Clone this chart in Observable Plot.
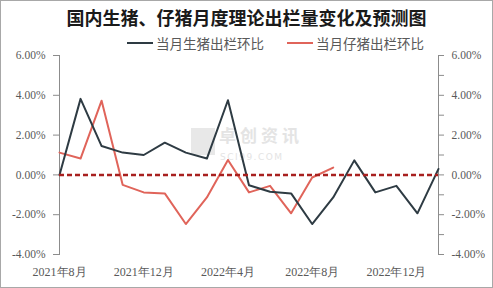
<!DOCTYPE html>
<html>
<head>
<meta charset="utf-8">
<script src="https://cdn.jsdelivr.net/npm/d3@7"></script>
<script src="https://cdn.jsdelivr.net/npm/@observablehq/plot@0.6"></script>
<style>
  html, body { margin: 0; padding: 0; background: #fff; }
  #wrap { position: relative; width: 493px; height: 288px; box-sizing: border-box; border: 1px solid #a8a8a8; overflow: hidden; background: #fff; }
  #title { position: absolute; top: 5px; left: 0; width: 100%; text-align: center; font: bold 18px "Noto Sans CJK SC", sans-serif; color: #1a1a1a; line-height: 22px; }
  #legend { position: absolute; top: 33px; left: 126px; display: flex; align-items: center; font: 13.5px "Noto Sans CJK SC", sans-serif; color: #595959; line-height: 18px; }
  .item { display: flex; align-items: center; }
  .swatch { width: 26px; height: 2px; margin-right: 3px; }
  #chart { position: absolute; top: 45px; left: 0; }
  #wm-logo { position: absolute; left: 190px; top: 127px; width: 24px; height: 27px; background: #e8e8e8; }
  #wm-t1 { position: absolute; left: 218px; top: 124px; font: bold 17px "Noto Sans CJK SC", sans-serif; color: #e4e4e4; line-height: 20px; letter-spacing: 4px; }
  #wm-t2 { position: absolute; left: 219px; top: 151px; font: 9px "DejaVu Sans", sans-serif; color: #e4e4e4; line-height: 10px; letter-spacing: 1.5px; }
  #chart svg text { font-family: "Liberation Serif", serif; }
</style>
</head>
<body>
<div id="wrap">
  <div id="title">国内生猪、仔猪月度理论出栏量变化及预测图</div>
  <div id="legend"></div>
  <div id="wm-logo"></div>
  <div id="wm-t1">卓创资讯</div>
  <div id="wm-t2">SCI99.COM</div>
  <div id="chart"></div>
</div>
<script>
const months = ["2021年8月","2021年9月","2021年10月","2021年11月","2021年12月","2022年1月","2022年2月","2022年3月","2022年4月","2022年5月","2022年6月","2022年7月","2022年8月","2022年9月","2022年10月","2022年11月","2022年12月","2023年1月","2023年2月"];
const hogMoM = [0.00, 3.82, 1.45, 1.12, 1.00, 1.62, 1.12, 0.82, 3.75, -0.52, -0.85, -0.93, -2.47, -1.13, 0.73, -0.88, -0.55, -1.93, 0.30];
const pigletMoM = [1.12, 0.82, 3.73, -0.50, -0.88, -0.93, -2.47, -1.13, 0.75, -0.88, -0.55, -1.93, -0.13, 0.37];
const seriesNames = ["当月生猪出栏环比", "当月仔猪出栏环比"];
const seriesColors = ["#2e3b43", "#e0645a"];
const xTickIdx = [0, 4, 8, 12, 16];
const yMajor = [-4, -2, 0, 2, 4, 6];
const yMinor = [-4, -3, -2, -1, 0, 1, 2, 3, 4, 5, 6];

const hog = hogMoM.map((v, i) => ({i, v}));
const piglet = pigletMoM.map((v, i) => ({i, v}));

const legend = document.getElementById("legend");
seriesNames.forEach((n, k) => {
  const it = document.createElement("div");
  it.className = "item";
  if (k > 0) it.style.marginLeft = "23px";
  it.innerHTML = `<div class="swatch" style="background:${seriesColors[k]}"></div><span>${n}</span>`;
  legend.appendChild(it);
});

const pct = d => d.toFixed(2) + "%";
const axisColor = "#8c8c8c";
const textColor = "#595959";
const serif = "'Liberation Serif', serif";

const chart = Plot.plot({
  width: 491,
  height: 242,
  marginLeft: 58,
  marginRight: 54,
  marginTop: 9,
  marginBottom: 34,
  style: { fontFamily: serif, fontSize: "11px", color: textColor, background: "transparent" },
  x: { type: "linear", domain: [0, months.length - 1] },
  y: { domain: [-4, 6] },
  marks: [
    Plot.frame({ anchor: "left", stroke: axisColor }),
    Plot.frame({ anchor: "right", stroke: axisColor }),
    Plot.axisY({ anchor: "left", ticks: yMajor, tickSize: 6, tickPadding: 8, tickFormat: pct, stroke: axisColor, fill: textColor, fontFamily: serif, fontSize: 11.5, label: null }),
    Plot.axisY({ anchor: "right", ticks: yMinor, tickSize: 5, tickPadding: 8, tickFormat: d => (d % 2 === 0 ? pct(d) : ""), stroke: axisColor, fill: textColor, fontFamily: serif, fontSize: 11.5, label: null }),
    Plot.axisX({ ticks: xTickIdx, tickSize: 0, tickPadding: 13, tickFormat: i => months[i], fill: textColor, fontFamily: serif, fontSize: 12, label: null }),
    Plot.line(piglet, { x: "i", y: "v", stroke: seriesColors[1], strokeWidth: 2 }),
    Plot.line(hog, { x: "i", y: "v", stroke: seriesColors[0], strokeWidth: 2 }),
    Plot.ruleY([0], { stroke: "#a8201f", strokeWidth: 2.5, strokeDasharray: "5,3" })
  ]
});
document.getElementById("chart").appendChild(chart);
</script>
</body>
</html>
